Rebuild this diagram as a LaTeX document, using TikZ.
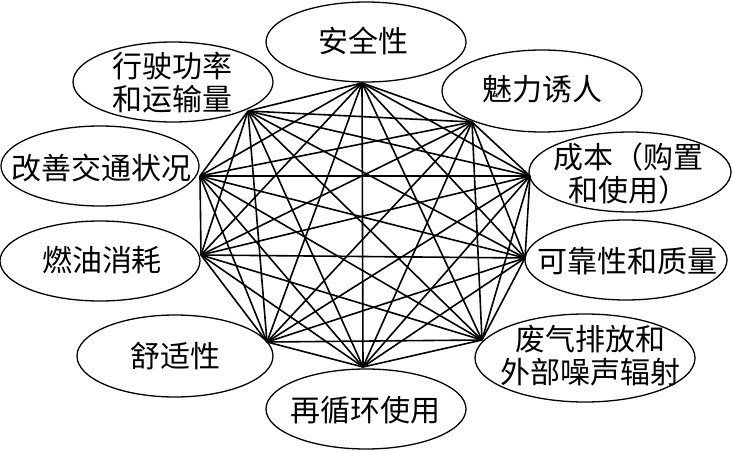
\documentclass[tikz,border=0pt]{standalone}
\usepackage{fontspec}
\newfontfamily\cjk{Noto Sans CJK SC}
\usetikzlibrary{shapes.geometric}
\begin{document}
\begin{tikzpicture}[x=1pt,y=-1pt,
  ell/.style={ellipse, draw, line width=1.3pt, inner sep=0pt},
  lbl/.style={font=\cjk\fontsize{30}{33}\selectfont, align=center, inner sep=0pt},
  edge/.style={line width=1.6pt}]
\useasboundingbox (0,0) rectangle (732,452);
% ellipses
\node[ell, minimum width=200pt, minimum height=80pt] (e1) at (366,42) {};
\node[ell, minimum width=200pt, minimum height=82pt] (e2) at (542,91) {};
\node[ell, minimum width=202pt, minimum height=80pt] (e3) at (630,172) {};
\node[ell, minimum width=202pt, minimum height=80pt] (e4) at (626,260) {};
\node[ell, minimum width=220pt, minimum height=88pt] (e5) at (585,358) {};
\node[ell, minimum width=200pt, minimum height=80pt] (e6) at (366,409) {};
\node[ell, minimum width=196pt, minimum height=82pt] (e7) at (175,356) {};
\node[ell, minimum width=200pt, minimum height=80pt] (e8) at (100,261) {};
\node[ell, minimum width=198pt, minimum height=80pt] (e9) at (100,166) {};
\node[ell, minimum width=200pt, minimum height=80pt] (e10) at (173,82) {};
% labels
\node[lbl] (t1) at (363,41) {安全性};
\node[lbl] (t2) at (542,89) {魅力诱人};
\node[lbl] (t3) at (628,174) {成本（购置\\和使用）};
\node[lbl] (t4) at (627,261) {可靠性和质量};
\node[lbl] (t5) at (590,356) {废气排放和\\外部噪声辐射};
\node[lbl] (t6) at (365,410) {再循环使用};
\node[lbl] (t7) at (175,356) {舒适性};
\node[lbl] (t8) at (102,260) {燃油消耗};
\node[lbl] (t9) at (102,168) {改善交通状况};
\node[lbl] (t10) at (172,83) {行驶功率\\和运输量};
% connection points
\coordinate (v1) at (362,83);
\coordinate (v2) at (472,122);
\coordinate (v3) at (530,176);
\coordinate (v4) at (525,258);
\coordinate (v5) at (482,340);
\coordinate (v6) at (363,367);
\coordinate (v7) at (267,342);
\coordinate (v8) at (201,255);
\coordinate (v9) at (200,176);
\coordinate (v10) at (248,111);
% complete graph
\foreach \i in {1,...,10}{
  \foreach \j in {1,...,10}{
    \ifnum\i<\j \draw[edge] (v\i) -- (v\j); \fi
  }
}
\end{tikzpicture}
\end{document}
